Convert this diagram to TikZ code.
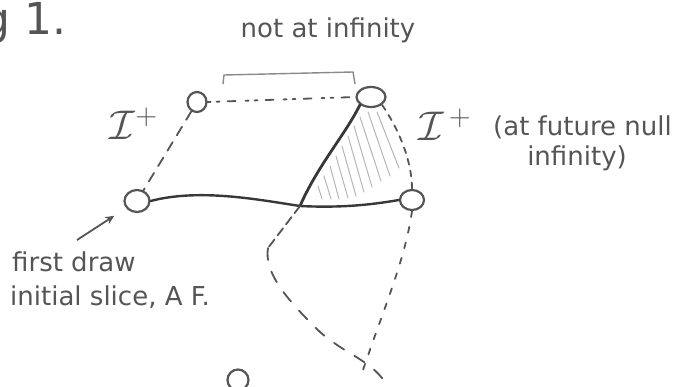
\documentclass[tikz,border=0pt]{standalone}
\usepackage{fontspec}
\setmainfont{DejaVu Sans}
\usetikzlibrary{arrows.meta,shapes.geometric,calc}
\definecolor{ink}{HTML}{383838}
\definecolor{pencil}{HTML}{555555}
\definecolor{faint}{HTML}{8A8A8A}
\definecolor{hatchc}{HTML}{B5B5B5}
\begin{document}
\begin{tikzpicture}[x=1pt,y=-1pt,
  hole/.style={ellipse,draw=pencil,line width=2.2pt,inner sep=0pt},
  solidline/.style={draw=ink,line width=2.4pt,line cap=round},
  dashline/.style={draw=pencil,line width=1.8pt,dash pattern=on 7pt off 7pt,line cap=round},
  hatchline/.style={draw=hatchc,line width=1pt,line cap=round},
  hand/.style={text=pencil,font=\fontsize{26}{30}\selectfont,inner sep=0pt},
  scri/.style={text=pencil,font=\fontsize{20}{24}\selectfont,inner sep=0pt,scale=2}
]
\useasboundingbox (0,0) rectangle (676,387);

% holes (circles)
\node[hole,minimum width=19pt,minimum height=20pt] (ul) at (197,102) {};
\node[hole,minimum width=29pt,minimum height=20pt] (ur) at (371,97) {};
\node[hole,minimum width=25pt,minimum height=22pt] (ll) at (137,201) {};
\node[hole,minimum width=24pt,minimum height=20pt] (rr) at (412,200) {};
\node[hole,minimum width=21pt,minimum height=21pt] (bot) at (238,380) {};

% hatching
\foreach \xa/\ya/\xb/\yb in {318/186/322/199, 324/176/331/199, 330/166/339/199,
  336/156/348/198, 342/146/356/196, 348/136/364/192, 354/126/372/187,
  360/117/381/181, 368/112/390/176, 377/112/399/168}
  \draw[hatchline] (\xa,\ya) -- (\xb,\yb);

% coordinates
\coordinate (cross) at (300,206);
\coordinate (kink) at (268,248);
\coordinate (lowend) at (385,382);
\coordinate (rightend) at (363,370);
\coordinate (arrowtail) at (77,240);

% connectors
\draw[dashline,dash pattern=on 3pt off 6pt on 3pt off 8pt on 8pt off 10pt] (ul.east) -- (ur.west);
\draw[dashline,dash pattern=on 10pt off 8pt] (ul) -- (ll);
\draw[solidline] (ll.east) .. controls (200,188) and (260,200) .. (cross)
  .. controls (340,208) and (370,205) .. (rr.west);
\draw[solidline,line width=2.8pt] (ur.south west) .. controls (345,135) and (318,165) .. (cross);
\draw[dashline,dash pattern=on 6pt off 6pt] (ur.south east) .. controls (398,128) and (412,160) .. (rr.north);
\draw[dashline,dash pattern=on 9pt off 5pt] (cross) -- (kink);
\draw[dashline,dash pattern=on 12pt off 12pt] (kink) .. controls (264,272) and (285,298) .. (320,332)
  .. controls (345,354) and (370,360) .. (lowend);
\draw[dashline,dash pattern=on 6pt off 10pt] (rr.south) .. controls (405,260) and (385,305) .. (rightend);

% bracket
\draw[faint,line width=1.4pt] (223,84) -- (224,75) -- (353,72) -- (355,84);

% arrow
\draw[pencil,line width=1.8pt,shorten >=14pt,-{Stealth[length=9pt,width=8pt]}] (arrowtail) -- (ll);

% texts
\node[text=pencil,font=\fontsize{44}{50}\selectfont,anchor=base west,inner sep=0pt] (fig) at (-18,35) {g 1.};
\node[hand] (nai) at (328,30) {not at infinity};
\node[scri] (scril) at (134,124) {$\mathcal{I}^{+}$};
\node[scri] (scrir) at (445,125) {$\mathcal{I}^{\,+}$};
\node[hand,anchor=west] (fut) at (493,127) {(at future null};
\node[hand] (inf) at (577,158) {infinity)};
\node[hand,anchor=west] (first) at (12,262) {first draw};
\node[hand,anchor=west] (slice) at (10,297) {initial slice, A F.};
\end{tikzpicture}
\end{document}
